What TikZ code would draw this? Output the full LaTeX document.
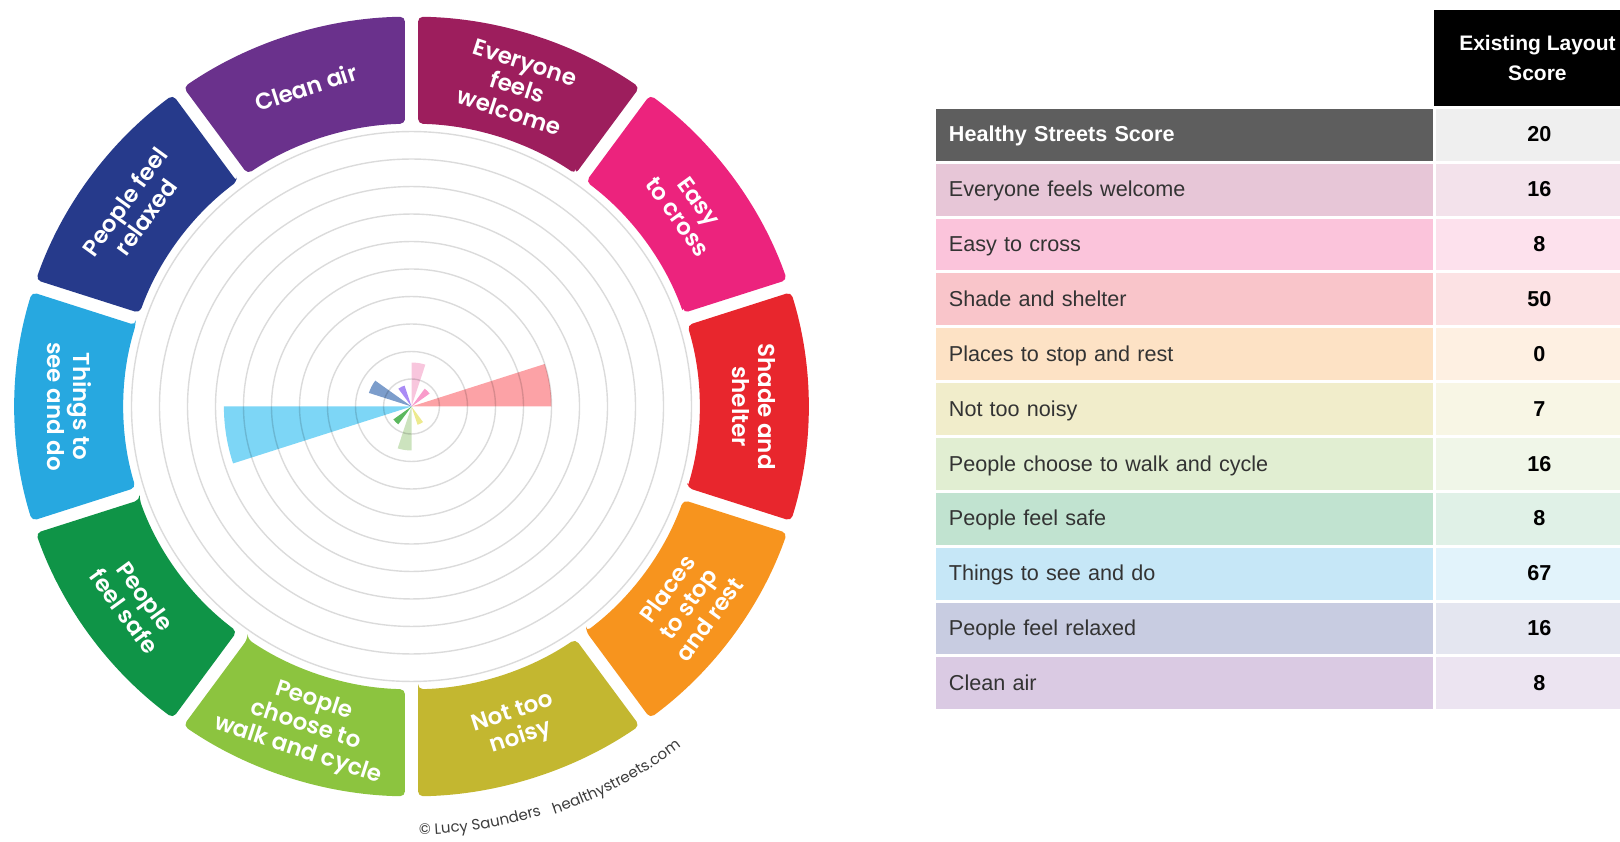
\documentclass[tikz,border=0pt]{standalone}
\usepackage{fontspec}
\setmainfont{Liberation Sans}
\newfontfamily\wheelfont{Poppins}[BoldFont={Poppins SemiBold}]
\usetikzlibrary{calc, positioning, decorations.text}

\definecolor{cleanair}{HTML}{6A318C}
\definecolor{welcome}{HTML}{9D1E5D}
\definecolor{cross}{HTML}{EC237D}
\definecolor{shade}{HTML}{E8262D}
\definecolor{rest}{HTML}{F7941E}
\definecolor{noisy}{HTML}{C3B730}
\definecolor{choose}{HTML}{8CC43F}
\definecolor{safe}{HTML}{0F9447}
\definecolor{things}{HTML}{27A8E0}
\definecolor{relaxed}{HTML}{263A8B}
\definecolor{barwelcome}{HTML}{F8C6DD}
\definecolor{barcross}{HTML}{F99BCB}
\definecolor{barshade}{HTML}{FCA2A6}
\definecolor{barnoisy}{HTML}{EDEA8E}
\definecolor{barchoose}{HTML}{CCE3BE}
\definecolor{barsafe}{HTML}{5CB85E}
\definecolor{barthings}{HTML}{7DD6F6}
\definecolor{barrelaxed}{HTML}{7C9DCB}
\definecolor{barcleanair}{HTML}{A98BF5}
\definecolor{tabhs}{HTML}{5E5E5E}
\definecolor{tabhsL}{HTML}{EFEFEF}
\definecolor{tabwelcome}{HTML}{E7C6D7}
\definecolor{tabcross}{HTML}{FBC4DB}
\definecolor{tabshade}{HTML}{F9C5CA}
\definecolor{tabrest}{HTML}{FDE2C5}
\definecolor{tabnoisy}{HTML}{F1EDCB}
\definecolor{tabchoose}{HTML}{E1EED2}
\definecolor{tabsafe}{HTML}{C1E3D0}
\definecolor{tabthings}{HTML}{C6E7F7}
\definecolor{tabrelaxed}{HTML}{C8CCE1}
\definecolor{tabcleanair}{HTML}{DACAE3}
\definecolor{footgray}{HTML}{3C3C3C}

\tikzset{
    seg/.style={fill=#1, draw=none, rounded corners=2.5pt},
    bar/.style={fill=#1, draw=none},
    ring/.style={draw=black, draw opacity=0.14, line width=0.7pt},
    seglabel/.style={text=white, align=center, inner sep=0pt,
        font=\wheelfont\bfseries\fontsize{11.5}{13}\selectfont},
    labcell/.style={anchor=north west, minimum height=25.9pt, text width=236pt,
        text height=0.9em, text depth=0.18em,
        inner xsep=6.25pt, inner ysep=0pt, align=left, text=black!80},
    valcell/.style={anchor=north west, minimum width=103pt, minimum height=25.9pt,
        text height=0.9em, text depth=0.18em,
        inner sep=0pt, font=\bfseries\fontsize{10.8}{13}\selectfont},
    headcell/.style={anchor=north west, fill=black, text=white, align=center,
        minimum width=103pt, minimum height=47.75pt, inner sep=0pt,
        font=\bfseries\fontsize{10.5}{15}\selectfont}
}

\begin{document}
\begin{tikzpicture}[x=0.5pt, y=0.5pt]
    \useasboundingbox (0,0) rectangle (1620,841);
    \clip (0,0) rectangle (1620,841);
    \def \rin {288}
    \def \rout {397}
    \def \din {1.3}
    \def \dout {0.94}
    \begin{scope}[shift={(411.5,434.5)}, yscale=0.982]
    \foreach \m/\c in {108/cleanair, 72/welcome, 36/cross, 0/shade, -36/rest,
        -72/noisy, -108/choose, -144/safe, 180/things, 144/relaxed}{
    \fill[seg=\c] ({\m-18+\din}:\rin) -- ({\m-18+\dout}:\rout)
        arc[start angle=\m-18+\dout, end angle=\m+18-\dout, radius=\rout]
        -- ({\m+18-\din}:\rin)
        arc[start angle=\m+18-\din, end angle=\m-18+\din, radius=\rin] -- cycle;}
    \foreach \m/\s/\c in {72/16/barwelcome, 36/8/barcross, 0/50/barshade,
        288/7/barnoisy, 252/16/barchoose, 216/8/barsafe, 180/67/barthings,
        144/16/barrelaxed, 108/8/barcleanair}{
    \fill[bar=\c] (0,0) -- (\m:2.8*\s) arc[start angle=\m, end angle=\m+18, radius=2.8*\s] -- cycle;}
    \foreach \k in {1,...,10}
    \draw[ring] (0,0) circle[radius=28*\k];
    \coordinate (o) at (0,0);
    \foreach \m/\r/\txt [count=\n] in {108/18/{Clean air}, 72/-18/{Everyone\\feels\\welcome},
        36/-54/{Easy\\to cross}, 0/-90/{Shade and\\shelter}, -36/54/{Places\\to stop\\and rest},
        -72/18/{Not too\\noisy}, -108/-18/{People\\choose to\\walk and cycle},
        -144/-54/{People\\feel safe}, 180/-90/{Things to\\see and do},
        144/54/{People feel\\relaxed}}
    \node[seglabel, rotate=\r] (w\n) at (\m:342) {\txt};
    \path[decorate, decoration={text along path, text align=left,
        text={|\wheelfont\fontsize{7.5}{8}\selectfont\color{footgray}|© Lucy Saunders}}]
        (271:436) arc[start angle=271, end angle=300, radius=436];
    \path[decorate, decoration={text along path, text align=left,
        text={|\wheelfont\fontsize{7.5}{8}\selectfont\color{footgray}|healthystreets.com}}]
        (289:439) arc[start angle=289, end angle=322, radius=439];
    \end{scope}
    % table
    \node[headcell] (h) at (1434,831) {Existing Layout\\Score};
    \node[labcell, fill=tabhs, text=white, font=\bfseries\fontsize{10.8}{13}\selectfont] (r0) at (936,732.5) {Healthy Streets Score};
    \node[valcell, fill=tabhsL] (s0) at (1436,732.5) {20};
    \foreach \i/\txt/\v/\c in {1/Everyone feels welcome/16/tabwelcome, 2/Easy to cross/8/tabcross,
        3/Shade and shelter/50/tabshade, 4/Places to stop and rest/0/tabrest,
        5/Not too noisy/7/tabnoisy, 6/People choose to walk and cycle/16/tabchoose,
        7/People feel safe/8/tabsafe, 8/Things to see and do/67/tabthings,
        9/People feel relaxed/16/tabrelaxed, 10/Clean air/8/tabcleanair}{
    \node[labcell, fill=\c, font=\fontsize{10.8}{13}\selectfont] (r\i) at (936,732.5-54.85*\i) {\txt};
    \node[valcell, fill=\c!50!white] (s\i) at (1436,732.5-54.85*\i) {\v};}
\end{tikzpicture}
\end{document}
